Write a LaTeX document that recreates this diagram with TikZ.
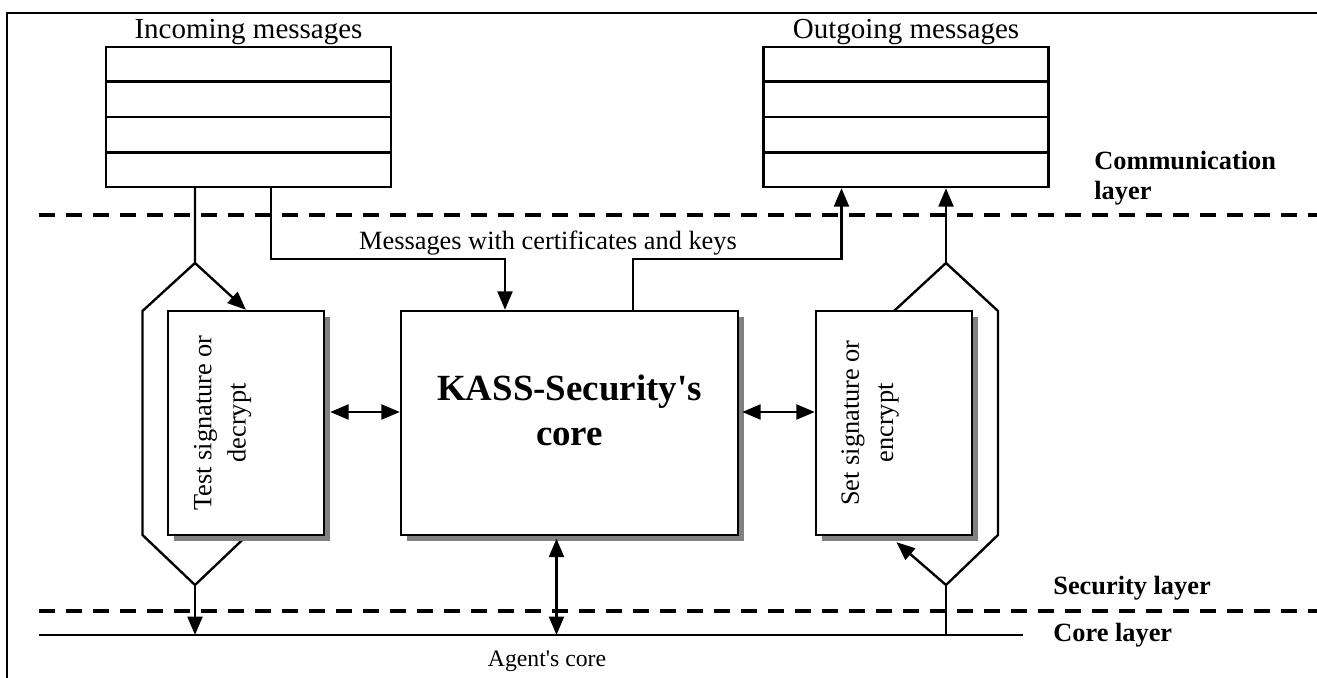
\documentclass[tikz,border=0pt]{standalone}
\usepackage{fontspec}
\setmainfont{Liberation Serif}
\usetikzlibrary{arrows.meta,positioning,shadows,calc}
\tikzset{
    flowline/.style={line width=1.35pt, black},
    flowarrow/.style={
        flowline,
        -{Triangle[length=10.5pt, width=8.5pt]}
    },
    bothways/.style={
        flowline,
        {Triangle[length=10.5pt, width=8.5pt]}-{Triangle[length=10.5pt, width=8.5pt]}
    },
    layerline/.style={line width=2pt, dash pattern=on 0.32cm off 0.22cm},
    coreline/.style={line width=1.4pt},
    % boxes with a grey drop shadow
    procbox/.style={
        draw, line width=1.35pt, fill=white,
        minimum width=3.12cm, minimum height=4.48cm,
        drop shadow={shadow xshift=0.12cm, shadow yshift=-0.12cm, fill=gray, opacity=1}
    },
    queue/.style={draw, line width=1.35pt, minimum width=5.7cm, minimum height=2.8cm},
    plaintext/.style={font=\fontsize{15}{19.5}\selectfont},
    layertext/.style={font=\bfseries\fontsize{15}{17}\selectfont, inner sep=0pt, anchor=west, align=left}
}

\begin{document}
\begin{tikzpicture}
   \useasboundingbox (0,0) rectangle (26.34,13.56);
   \draw[line width=1.5pt] (0.14,0) -- (0.14,13.3) -- (26.34,13.3);

   % message queues
   \node[queue] (inq) at (4.97,11.22) {};
   \node[queue] (outq) at (18.12,11.22) {};
   \foreach \q in {inq,outq}
      \foreach \k in {1,2,3}
         \draw[flowline] ($(\q.north west)!\k/4!(\q.south west)$) -- ($(\q.north east)!\k/4!(\q.south east)$);
   \node[plaintext, font=\fontsize{16.5}{19}\selectfont, above=-3pt of inq] (inlabel) {Incoming messages};
   \node[plaintext, font=\fontsize{16.5}{19}\selectfont, above=-3pt of outq] (outlabel) {Outgoing messages};

   % layers
   \coordinate (commL) at (0.78,9.26);
   \coordinate (commR) at (26.34,9.26);
   \coordinate (secL) at (0.78,1.34);
   \coordinate (secR) at (26.34,1.34);
   \coordinate (coreL) at (0.78,0.86);
   \coordinate (coreR) at (20.46,0.86);
   \draw[layerline] (commL) -- (commR);
   \draw[layerline] (secL) -- (secR);
   \draw[coreline] (coreL) -- (coreR);

   % hexagon round the left box
   \coordinate (lt) at (3.9,8.3);
   \coordinate (lb) at (3.9,1.86);
   \draw[flowline] (inq.south -| lt) -- (lt) -- (2.85,7.34) -- (2.85,2.86) -- (lb) -- (4.95,2.86);
   % hexagon round the right box
   \coordinate (rt) at (18.92,8.3);
   \coordinate (rb) at (18.92,1.86);
   \draw[flowline] (17.88,7.34) -- (rt) -- (19.96,7.34) -- (19.96,2.86) -- (rb);
   \draw[flowline] (coreL -| rb) -- (rb);

   % boxes
   \node[procbox] (test) at (4.92,5.1) {};
   \node[procbox, minimum width=6.74cm] (kass) at (11.39,5.1) {};
   \node[procbox] (set) at (17.88,5.1) {};
   \node[plaintext, rotate=90, align=center] (testtext) at ($(test.center)+(-0.47,0)$) {Test signature or\\decrypt};
   \node[plaintext, rotate=90, align=center] (settext) at ($(set.center)+(-0.48,0)$) {Set signature or\\encrypt};
   \node[font=\bfseries\fontsize{21}{25.5}\selectfont, align=center] (kasstext) at ($(kass.center)+(0,0.25)$) {KASS-Security\textquotesingle s\\core};

   % connectors
   \draw[flowarrow] (lt) -- (test.north);
   \draw[flowarrow] (lb) -- (lb |- coreL);
   \draw[flowarrow] (rt) -- (rt |- outq.south);
   \coordinate (setin) at ($(set.south)+(0.05,-0.12)$);
   \draw[flowarrow] (rb) -- (setin);

   \coordinate (inexit) at ($(inq.south)+(0.45,0)$);
   \coordinate (kassin) at ($(kass.north)+(-1.29,0)$);
   \coordinate (kassout) at ($(kass.north)+(1.27,0)$);
   \coordinate (outentry) at ($(outq.south)+(-1.29,0)$);
   \draw[flowarrow] (inexit) |- ($(kassin)+(0,1.02)$) -- (kassin);
   \draw[flowarrow] (kassout) -- ++(0,1.02) -| (outentry);
   \node[plaintext] (msglabel) at (10.96,8.7) {Messages with certificates and keys};

   \draw[bothways] ($(test.east)+(0.1,0.22)$) -- ($(kass.west)+(0,0.22)$);
   \draw[bothways] ($(kass.east)+(0.06,0.22)$) -- ($(set.west)+(0,0.22)$);
   \coordinate (kassdown) at ($(kass.south)+(-0.26,-0.05)$);
   \draw[bothways] (kassdown) -- (kassdown |- coreL);

   % layer names
   \node[layertext] (commtext) at (21.88,10.0) {Communication\\layer};
   \node[layertext] (sectext) at (21.06,1.8) {Security layer};
   \node[layertext] (coretext) at (21.06,0.86) {Core layer};
   \node[plaintext, font=\fontsize{13.5}{16}\selectfont] (agenttext) at (10.94,0.34) {Agent\textquotesingle s core};
\end{tikzpicture}
\end{document}
